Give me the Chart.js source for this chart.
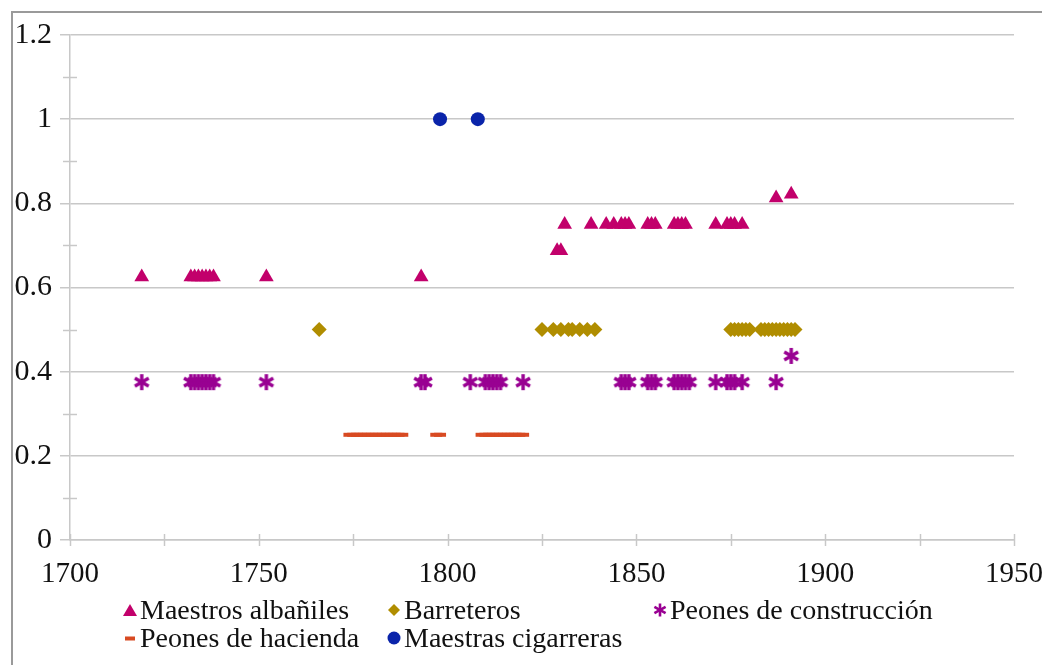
<!DOCTYPE html>
<html>
<head>
<meta charset="utf-8">
<script src="https://cdn.jsdelivr.net/npm/chart.js@4/dist/chart.umd.min.js"></script>
<style>
    body { margin: 0; background: #ffffff; }
    #wrap { position: relative; width: 1042px; height: 665px; overflow: hidden; }
    #frame { position: absolute; left: 11px; top: 11px; width: 1100px; height: 700px; border-left: 2px solid #9a9a9a; border-top: 2px solid #9a9a9a; }
    #chart { position: absolute; left: 0; top: 0; }
    .legend-item { position: absolute; display: flex; align-items: center; height: 28px; font-family: 'Liberation Serif', serif; font-size: 28px; color: #111; white-space: nowrap; }
    .legend-item svg { margin-right: 3px; }
</style>
</head>
<body>
<div id="wrap">
    <div id="frame"></div>
    <canvas id="chart" width="1042" height="665"></canvas>
    <div id="legend"></div>
</div>
<script>
// data
const albanilesYears = [1719, 1732, 1733, 1734, 1735, 1736, 1737, 1738, 1752, 1793, 1829, 1830, 1831, 1838, 1842, 1844, 1846, 1847, 1848, 1853, 1854, 1855, 1860, 1861, 1862, 1863, 1871, 1874, 1875, 1876, 1878, 1887, 1891];
const albanilesValues = [0.625, 0.625, 0.625, 0.625, 0.625, 0.625, 0.625, 0.625, 0.625, 0.625, 0.6875, 0.6875, 0.75, 0.75, 0.75, 0.75, 0.75, 0.75, 0.75, 0.75, 0.75, 0.75, 0.75, 0.75, 0.75, 0.75, 0.75, 0.75, 0.75, 0.75, 0.75, 0.8125, 0.8214];

const barreterosYears = [1766, 1825, 1828, 1830, 1832, 1833, 1835, 1837, 1839, 1875, 1876, 1877, 1878, 1879, 1880, 1883, 1884, 1885, 1886, 1887, 1888, 1889, 1890, 1891, 1892];
const barreterosValues = [0.5, 0.5, 0.5, 0.5, 0.5, 0.5, 0.5, 0.5, 0.5, 0.5, 0.5, 0.5, 0.5, 0.5, 0.5, 0.5, 0.5, 0.5, 0.5, 0.5, 0.5, 0.5, 0.5, 0.5, 0.5];

const construccionYears = [1719, 1732, 1733, 1734, 1735, 1736, 1737, 1738, 1752, 1793, 1794, 1806, 1810, 1811, 1812, 1813, 1814, 1820, 1846, 1847, 1848, 1853, 1854, 1855, 1860, 1861, 1862, 1863, 1864, 1871, 1874, 1875, 1876, 1878, 1887, 1891];
const construccionValues = [0.375, 0.375, 0.375, 0.375, 0.375, 0.375, 0.375, 0.375, 0.375, 0.375, 0.375, 0.375, 0.375, 0.375, 0.375, 0.375, 0.375, 0.375, 0.375, 0.375, 0.375, 0.375, 0.375, 0.375, 0.375, 0.375, 0.375, 0.375, 0.375, 0.375, 0.375, 0.375, 0.375, 0.375, 0.375, 0.4375];

const haciendaYears = [1774, 1775, 1776, 1777, 1778, 1779, 1780, 1781, 1782, 1783, 1784, 1785, 1786, 1787, 1788, 1797, 1798, 1809, 1810, 1811, 1812, 1813, 1814, 1815, 1816, 1817, 1818, 1819, 1820];
const haciendaValues = [0.25, 0.25, 0.25, 0.25, 0.25, 0.25, 0.25, 0.25, 0.25, 0.25, 0.25, 0.25, 0.25, 0.25, 0.25, 0.25, 0.25, 0.25, 0.25, 0.25, 0.25, 0.25, 0.25, 0.25, 0.25, 0.25, 0.25, 0.25, 0.25];

const cigarrerasYears = [1798, 1808];
const cigarrerasValues = [1, 1];

const seriesLabels = ['Maestros albañiles', 'Barreteros', 'Peones de construcción', 'Peones de hacienda', 'Maestras cigarreras'];
const xTicks = [1700, 1750, 1800, 1850, 1900, 1950];
const yTicks = [0, 0.2, 0.4, 0.6, 0.8, 1, 1.2];

const COLORS = {
    albaniles: '#c2006b',
    barreteros: '#b08d00',
    construccion: '#990092',
    hacienda: '#d84a22',
    cigarreras: '#0a24aa'
};
const GRID = '#c8c8c8';
const FONT = "'Liberation Serif', serif";

function toPoints(xs, ys) {
    return xs.map((x, i) => ({ x: x, y: ys[i] }));
}

// six-armed asterisk marker
function makeAsterisk(color, size, lw) {
    const c = document.createElement('canvas');
    c.width = size;
    c.height = size;
    const g = c.getContext('2d');
    const r = size / 2 - 1;
    g.strokeStyle = color;
    g.lineWidth = lw;
    [90, 30, 150].forEach(deg => {
        const a = deg * Math.PI / 180;
        g.beginPath();
        g.moveTo(size / 2 - Math.cos(a) * r, size / 2 - Math.sin(a) * r);
        g.lineTo(size / 2 + Math.cos(a) * r, size / 2 + Math.sin(a) * r);
        g.stroke();
    });
    return c;
}

// small crossing ticks on both axes
const axisTicks = {
    id: 'axisTicks',
    afterDatasetsDraw(chart) {
        const ctx = chart.ctx;
        const xs = chart.scales.x;
        const ys = chart.scales.y;
        const x0 = xs.getPixelForValue(1700);
        const y0 = ys.getPixelForValue(0);
        ctx.save();
        ctx.strokeStyle = GRID;
        ctx.lineWidth = 1.5;
        for (let v = 1; v < 12; v += 2) {
            const py = Math.round(ys.getPixelForValue(v / 10)) + 0.5;
            ctx.beginPath();
            ctx.moveTo(x0 - 7, py);
            ctx.lineTo(x0 + 7, py);
            ctx.stroke();
        }
        for (let yr = 1700; yr <= 1950; yr += 25) {
            const px = Math.round(xs.getPixelForValue(yr)) + 0.5;
            ctx.beginPath();
            ctx.moveTo(px, y0 - 6);
            ctx.lineTo(px, y0 + 6);
            ctx.stroke();
        }
        ctx.restore();
    }
};

const datasets = [
    {
        label: seriesLabels[0],
        data: toPoints(albanilesYears, albanilesValues),
        pointStyle: 'triangle',
        pointRadius: 8.5,
        backgroundColor: COLORS.albaniles,
        borderColor: COLORS.albaniles,
        borderWidth: 0
    },
    {
        label: seriesLabels[1],
        data: toPoints(barreterosYears, barreterosValues),
        pointStyle: 'rectRot',
        pointRadius: 7.5,
        backgroundColor: COLORS.barreteros,
        borderColor: COLORS.barreteros,
        borderWidth: 0
    },
    {
        label: seriesLabels[2],
        data: toPoints(construccionYears, construccionValues),
        pointStyle: makeAsterisk(COLORS.construccion, 18, 3.4),
        pointRadius: 8,
        backgroundColor: COLORS.construccion,
        borderColor: COLORS.construccion
    },
    {
        label: seriesLabels[3],
        data: toPoints(haciendaYears, haciendaValues),
        pointStyle: 'line',
        pointRadius: 6,
        borderWidth: 4,
        backgroundColor: COLORS.hacienda,
        borderColor: COLORS.hacienda
    },
    {
        label: seriesLabels[4],
        data: toPoints(cigarrerasYears, cigarrerasValues),
        pointStyle: 'circle',
        pointRadius: 7,
        backgroundColor: COLORS.cigarreras,
        borderColor: COLORS.cigarreras,
        borderWidth: 0
    }
];

new Chart(document.getElementById('chart').getContext('2d'), {
    type: 'scatter',
    data: { datasets: datasets },
    options: {
        responsive: false,
        animation: false,
        devicePixelRatio: 1,
        layout: { padding: { top: 35, right: 28, left: 0, bottom: 0 } },
        plugins: {
            legend: { display: false },
            tooltip: { enabled: false }
        },
        scales: {
            x: {
                type: 'linear',
                min: 1700,
                max: 1950,
                afterFit: (scale) => {
                    scale.height = 125;
                    scale.paddingLeft = 0;
                    scale.paddingRight = 0;
                },
                afterBuildTicks: (scale) => {
                    const t = [];
                    for (let yr = 1700; yr <= 1950; yr += 25) t.push({ value: yr });
                    scale.ticks = t;
                },
                ticks: {
                    autoSkip: false,
                    maxRotation: 0,
                    padding: 17,
                    color: '#111',
                    font: { family: FONT, size: 29 },
                    callback: (v) => xTicks.includes(v) ? String(v) : ''
                },
                grid: { drawOnChartArea: false, drawTicks: false },
                border: { color: GRID, width: 1.5 }
            },
            y: {
                min: 0,
                max: 1.2,
                afterFit: (scale) => {
                    scale.width = 70;
                    scale.paddingTop = 0;
                    scale.paddingBottom = 0;
                },
                afterBuildTicks: (scale) => {
                    scale.ticks = yTicks.map(v => ({ value: v }));
                },
                ticks: {
                    padding: 8,
                    color: '#111',
                    font: { family: FONT, size: 30 },
                    callback: (v) => String(Math.round(v * 10) / 10)
                },
                grid: {
                    color: GRID,
                    lineWidth: 1.5,
                    tickLength: 10,
                    tickColor: GRID
                },
                border: { color: GRID, width: 1.5 }
            }
        }
    },
    plugins: [axisTicks]
});

// legend laid out in columns like the original
function legendMarker(i) {
    const c = [COLORS.albaniles, COLORS.barreteros, COLORS.construccion, COLORS.hacienda, COLORS.cigarreras][i];
    const shapes = [
        `<polygon points="7,1 14,13 0,13" fill="${c}"/>`,
        `<polygon points="7,1 13,7 7,13 1,7" fill="${c}"/>`,
        `<g stroke="${c}" stroke-width="2.6"><line x1="7" y1="0.5" x2="7" y2="13.5"/><line x1="1.4" y1="3.8" x2="12.6" y2="10.2"/><line x1="1.4" y1="10.2" x2="12.6" y2="3.8"/></g>`,
        `<rect x="2" y="5.5" width="10" height="4" fill="${c}"/>`,
        `<circle cx="7" cy="7" r="6.5" fill="${c}"/>`
    ];
    return `<svg width="14" height="14" viewBox="0 0 14 14">${shapes[i]}</svg>`;
}

const legendPos = [
    { left: 123, top: 596 },
    { left: 387, top: 596 },
    { left: 653, top: 596 },
    { left: 123, top: 624 },
    { left: 387, top: 624 }
];
const legendEl = document.getElementById('legend');
seriesLabels.forEach((name, i) => {
    const d = document.createElement('div');
    d.className = 'legend-item';
    d.style.left = legendPos[i].left + 'px';
    d.style.top = legendPos[i].top + 'px';
    d.innerHTML = legendMarker(i) + '<span>' + name + '</span>';
    legendEl.appendChild(d);
});
</script>
</body>
</html>
